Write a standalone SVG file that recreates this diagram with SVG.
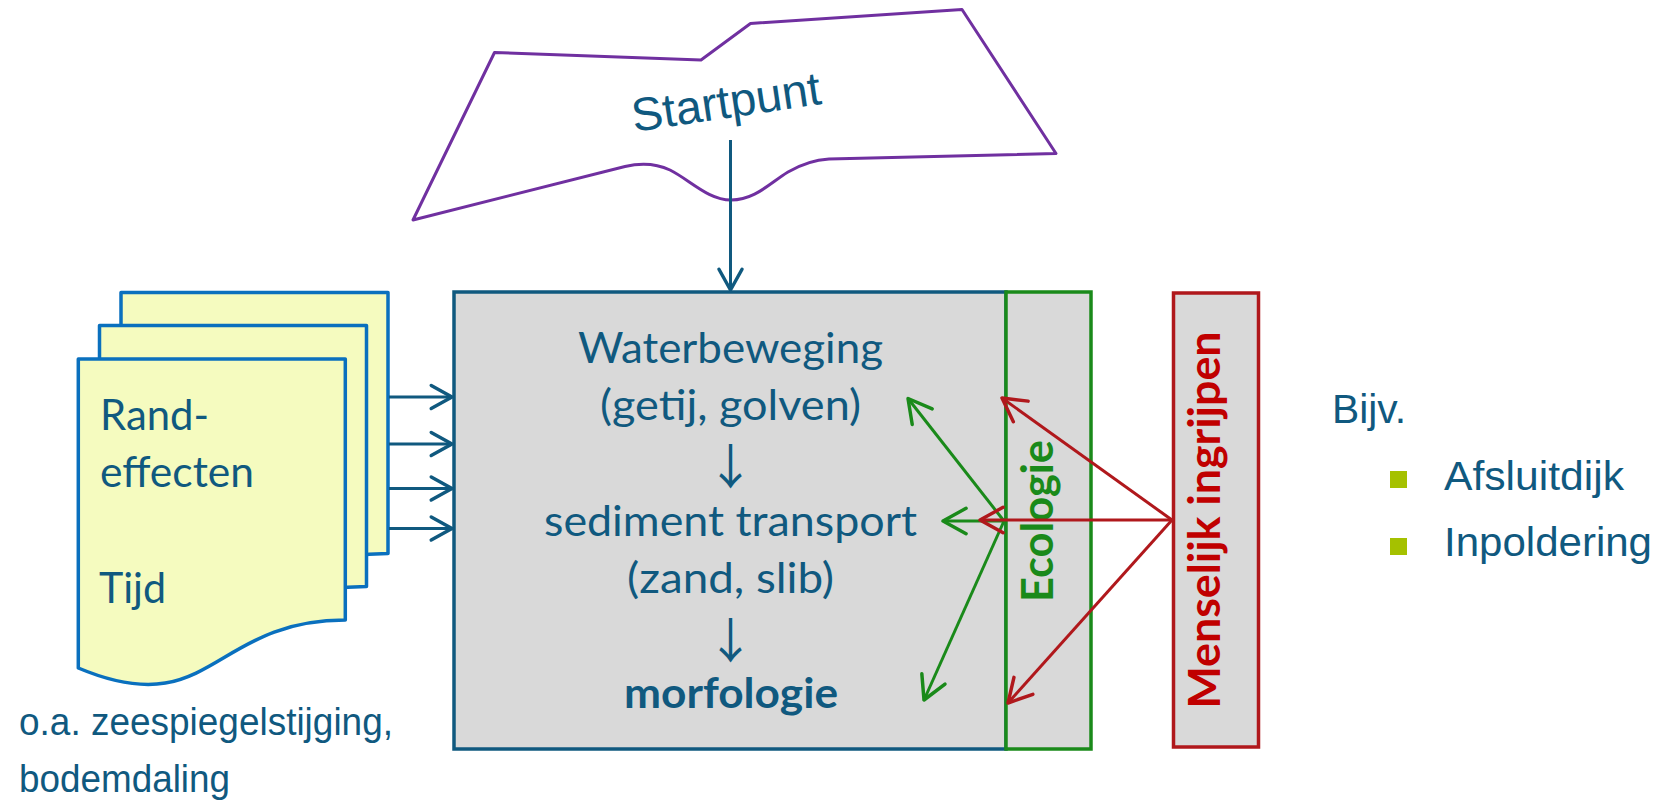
<svg xmlns="http://www.w3.org/2000/svg" xmlns:xlink="http://www.w3.org/1999/xlink" width="1664" height="801" viewBox="0 0 1664 801">
<style>
  .teal { fill: #10597f; }
  .cal { font-family: Lato, "Open Sans", "Liberation Sans", sans-serif; font-size: 42px; fill: #10597f; }
  .arial { font-family: "Liberation Sans", Arial, sans-serif; fill: #10597f; }
  .sym { font-family: "Noto Sans CJK SC", "Noto Sans CJK JP", sans-serif; font-size: 48px; fill: #10597f; }
  .doc { fill: #f5fbbf; stroke: #0a70be; stroke-width: 3.5; stroke-linejoin: round; }
  .box { fill: #d9d9d9; }
  .ln-teal { stroke: #10597f; stroke-width: 3; fill: none; }
  .ln-green { stroke: #1a8a1a; stroke-width: 3; fill: none; }
  .ln-red { stroke: #b0181c; stroke-width: 3; fill: none; }
</style>
<defs>
  <path id="docshape" d="M0,0 H267 V261 C133,261 133,365 0,309 Z"/>
  <marker id="ah-teal" markerUnits="userSpaceOnUse" orient="auto" refX="0" refY="0" markerWidth="30" markerHeight="30" viewBox="-22 -13 26 26" overflow="visible">
    <path d="M-18,-10 L0,0 L-18,10" fill="none" stroke="#10597f" stroke-width="3" stroke-linecap="round" stroke-linejoin="round"/>
  </marker>
  <marker id="ah-green" markerUnits="userSpaceOnUse" orient="auto" refX="0" refY="0" markerWidth="30" markerHeight="30" viewBox="-22 -13 26 26" overflow="visible">
    <path d="M-20,-11 L0,0 L-20,11" fill="none" stroke="#1a8a1a" stroke-width="3" stroke-linecap="round" stroke-linejoin="round"/>
  </marker>
  <marker id="ah-red" markerUnits="userSpaceOnUse" orient="auto" refX="0" refY="0" markerWidth="30" markerHeight="30" viewBox="-22 -13 26 26" overflow="visible">
    <path d="M-20,-11 L0,0 L-20,11" fill="none" stroke="#b0181c" stroke-width="3" stroke-linecap="round" stroke-linejoin="round"/>
  </marker>
</defs>
<rect width="1664" height="801" fill="#ffffff"/>

<g id="startpunt">
  <path d="M413,220 L494.5,52.5 L701,60 L750.5,23.5 L962,9.5 L1056,153.5 L829,159 C812,160 800,165 788,172 C770,183 755,200 731,200 C708,200 690,180 670,170 C655,163 640,163 625,166.5 Z" fill="#ffffff" stroke="#7030a0" stroke-width="3" stroke-linejoin="round"/>
  <text class="arial" font-size="47" text-anchor="middle" transform="translate(726,102) rotate(-8.5)" x="0" y="16">Startpunt</text>
</g>

<g id="randeffecten">
  <use xlink:href="#docshape" href="#docshape" class="doc" transform="translate(121,292.5)"/>
  <use xlink:href="#docshape" href="#docshape" class="doc" transform="translate(99.5,325.5)"/>
  <use xlink:href="#docshape" href="#docshape" class="doc" transform="translate(78.3,359)"/>
  <text class="cal" x="100" y="430" textLength="109" lengthAdjust="spacingAndGlyphs">Rand-</text>
  <text class="cal" x="100" y="487" textLength="154" lengthAdjust="spacingAndGlyphs">effecten</text>
  <text class="cal" x="99" y="603" textLength="67" lengthAdjust="spacingAndGlyphs">Tijd</text>
</g>

<g id="model">
  <rect class="box" x="454" y="292" width="552" height="457" stroke="#10597f" stroke-width="3.5"/>
  <text class="cal" x="730.5" y="363" text-anchor="middle" textLength="305" lengthAdjust="spacingAndGlyphs">Waterbeweging</text>
  <text class="cal" x="730.5" y="420" text-anchor="middle" textLength="261" lengthAdjust="spacingAndGlyphs">(getij, golven)</text>
  <text class="sym" x="730.5" y="484" text-anchor="middle">↓</text>
  <text class="cal" x="730.5" y="536" text-anchor="middle" textLength="373" lengthAdjust="spacingAndGlyphs">sediment transport</text>
  <text class="cal" x="730.5" y="593" text-anchor="middle" textLength="207" lengthAdjust="spacingAndGlyphs">(zand, slib)</text>
  <text class="sym" x="730.5" y="658" text-anchor="middle">↓</text>
  <text class="cal" x="731" y="708" text-anchor="middle" font-weight="bold" textLength="214" lengthAdjust="spacingAndGlyphs">morfologie</text>
</g>

<g id="ecologie">
  <rect class="box" x="1006" y="292" width="85" height="457" stroke="#1a8a1a" stroke-width="3.5"/>
  <text transform="translate(1053,521) rotate(-90)" x="0" y="0" text-anchor="middle" font-family="Lato, 'Open Sans', 'Liberation Sans', sans-serif" font-weight="bold" font-size="43" fill="#1a8a1a" textLength="162" lengthAdjust="spacingAndGlyphs">Ecologie</text>
</g>

<g id="menselijk">
  <rect class="box" x="1173.5" y="293" width="85" height="454" stroke="#b0181c" stroke-width="3.5"/>
  <text transform="translate(1220,520) rotate(-90)" x="0" y="0" text-anchor="middle" font-family="Lato, 'Open Sans', 'Liberation Sans', sans-serif" font-weight="bold" font-size="43" fill="#c00000" textLength="377" lengthAdjust="spacingAndGlyphs">Menselijk ingrijpen</text>
</g>

<g id="bijv">
  <text class="arial" x="1332" y="423" font-size="40" textLength="74" lengthAdjust="spacingAndGlyphs">Bijv.</text>
  <rect x="1390" y="471" width="17" height="17" fill="#a5c100"/>
  <text class="arial" x="1444" y="490" font-size="40" textLength="180" lengthAdjust="spacingAndGlyphs">Afsluitdijk</text>
  <rect x="1390" y="538" width="17" height="17" fill="#a5c100"/>
  <text class="arial" x="1444" y="556" font-size="40" textLength="208" lengthAdjust="spacingAndGlyphs">Inpoldering</text>
</g>

<g id="note">
  <text class="arial" x="19" y="735" font-size="38" textLength="374" lengthAdjust="spacingAndGlyphs">o.a. zeespiegelstijging,</text>
  <text class="arial" x="19" y="792" font-size="38" textLength="211" lengthAdjust="spacingAndGlyphs">bodemdaling</text>
</g>

<g id="connectors">
  <line class="ln-teal" x1="730.5" y1="140" x2="730.5" y2="290" marker-end="url(#ah-teal)"/>
  <line class="ln-teal" x1="389" y1="397" x2="452" y2="397" marker-end="url(#ah-teal)"/>
  <line class="ln-teal" x1="389" y1="444" x2="452" y2="444" marker-end="url(#ah-teal)"/>
  <line class="ln-teal" x1="389" y1="488.5" x2="452" y2="488.5" marker-end="url(#ah-teal)"/>
  <line class="ln-teal" x1="389" y1="528.5" x2="452" y2="528.5" marker-end="url(#ah-teal)"/>
  <line class="ln-green" x1="1004" y1="521" x2="908" y2="398.5" marker-end="url(#ah-green)"/>
  <line class="ln-green" x1="1004" y1="521" x2="943" y2="521" marker-end="url(#ah-green)"/>
  <line class="ln-green" x1="1004" y1="521" x2="924" y2="700" marker-end="url(#ah-green)"/>
  <line class="ln-red" x1="1172" y1="520" x2="1002" y2="398" marker-end="url(#ah-red)"/>
  <line class="ln-red" x1="1172" y1="520" x2="980" y2="520" marker-end="url(#ah-red)"/>
  <line class="ln-red" x1="1172" y1="520" x2="1008" y2="703" marker-end="url(#ah-red)"/>
</g>
</svg>
